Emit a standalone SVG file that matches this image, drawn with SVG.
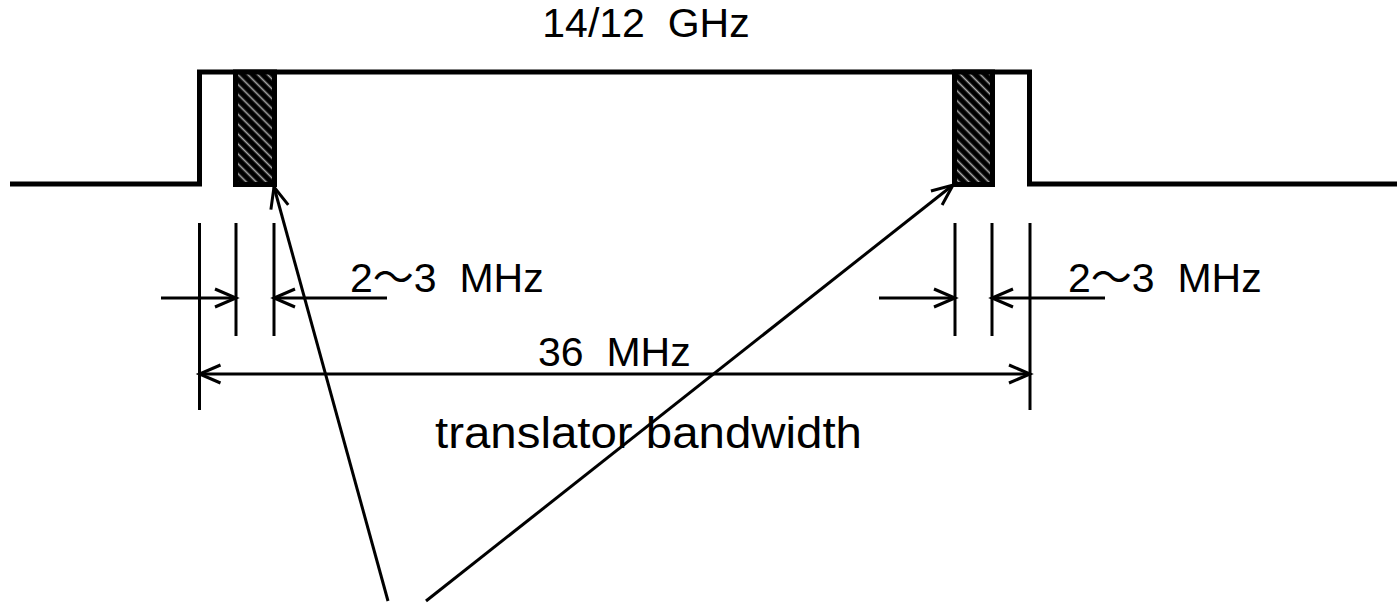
<svg xmlns="http://www.w3.org/2000/svg" width="1397" height="603" viewBox="0 0 1397 603">
<style>
.t{font-family:"Liberation Sans","Noto Sans CJK SC",sans-serif;font-size:41px;fill:#000;white-space:pre}
.thin{stroke:#000;stroke-width:3;fill:none}
.thick{stroke:#000;stroke-width:5;fill:none}
</style>
<defs>
<pattern id="hatch" width="7" height="7" patternUnits="userSpaceOnUse" patternTransform="rotate(45)">
<rect width="7" height="7" fill="#000"/>
<line x1="0" y1="3.5" x2="7" y2="3.5" stroke="#aaa" stroke-width="1.6"/>
</pattern>
<marker id="ah" markerUnits="userSpaceOnUse" markerWidth="30" markerHeight="30" viewBox="-25 -15 30 30" refX="0" refY="0" orient="auto">
<path d="M-21,-9 L0,0 L-21,9" fill="none" stroke="#000" stroke-width="3"/>
</marker>
</defs>
<g id="spectrum">
<polyline class="thick" points="10,184 199.5,184 199.5,72 1029.5,72 1029.5,184 1397,184"/>
</g>
<g id="guard-left">
<rect x="235.5" y="72" width="39" height="112.5" fill="url(#hatch)" stroke="#000" stroke-width="5"/>
</g>
<g id="guard-right">
<rect x="954.5" y="72" width="38" height="112.5" fill="url(#hatch)" stroke="#000" stroke-width="5"/>
</g>
<g id="connectors">
<line class="thin" x1="199.5" y1="223" x2="199.5" y2="410"/>
<line class="thin" x1="236" y1="223" x2="236" y2="336"/>
<line class="thin" x1="274" y1="223" x2="274" y2="336"/>
<line class="thin" x1="955" y1="223" x2="955" y2="336"/>
<line class="thin" x1="992" y1="223" x2="992" y2="336"/>
<line class="thin" x1="1030" y1="223" x2="1030" y2="410"/>
<line class="thin" x1="161" y1="298" x2="236" y2="298" marker-end="url(#ah)"/>
<line class="thin" x1="387" y1="298" x2="274" y2="298" marker-end="url(#ah)"/>
<line class="thin" x1="879" y1="298" x2="955" y2="298" marker-end="url(#ah)"/>
<line class="thin" x1="1105" y1="298" x2="992" y2="298" marker-end="url(#ah)"/>
<line class="thin" x1="614" y1="374" x2="199.5" y2="374" marker-end="url(#ah)"/>
<line class="thin" x1="614" y1="374" x2="1030" y2="374" marker-end="url(#ah)"/>
<line class="thin" x1="388" y1="601" x2="274" y2="187" marker-end="url(#ah)"/>
<line class="thin" x1="426" y1="601" x2="953" y2="185" marker-end="url(#ah)"/>
</g>
<g id="labels">
<text class="t" x="646" y="37" text-anchor="middle" xml:space="preserve">14/12  GHz</text>
<text class="t" x="350" y="292" xml:space="preserve">2～3  MHz</text>
<text class="t" x="1068" y="292" xml:space="preserve">2～3  MHz</text>
<text class="t" x="538" y="366" xml:space="preserve">36  MHz</text>
<text class="t" x="435" y="448" textLength="427" lengthAdjust="spacingAndGlyphs" style="font-size:44px">translator bandwidth</text>
</g>
</svg>
